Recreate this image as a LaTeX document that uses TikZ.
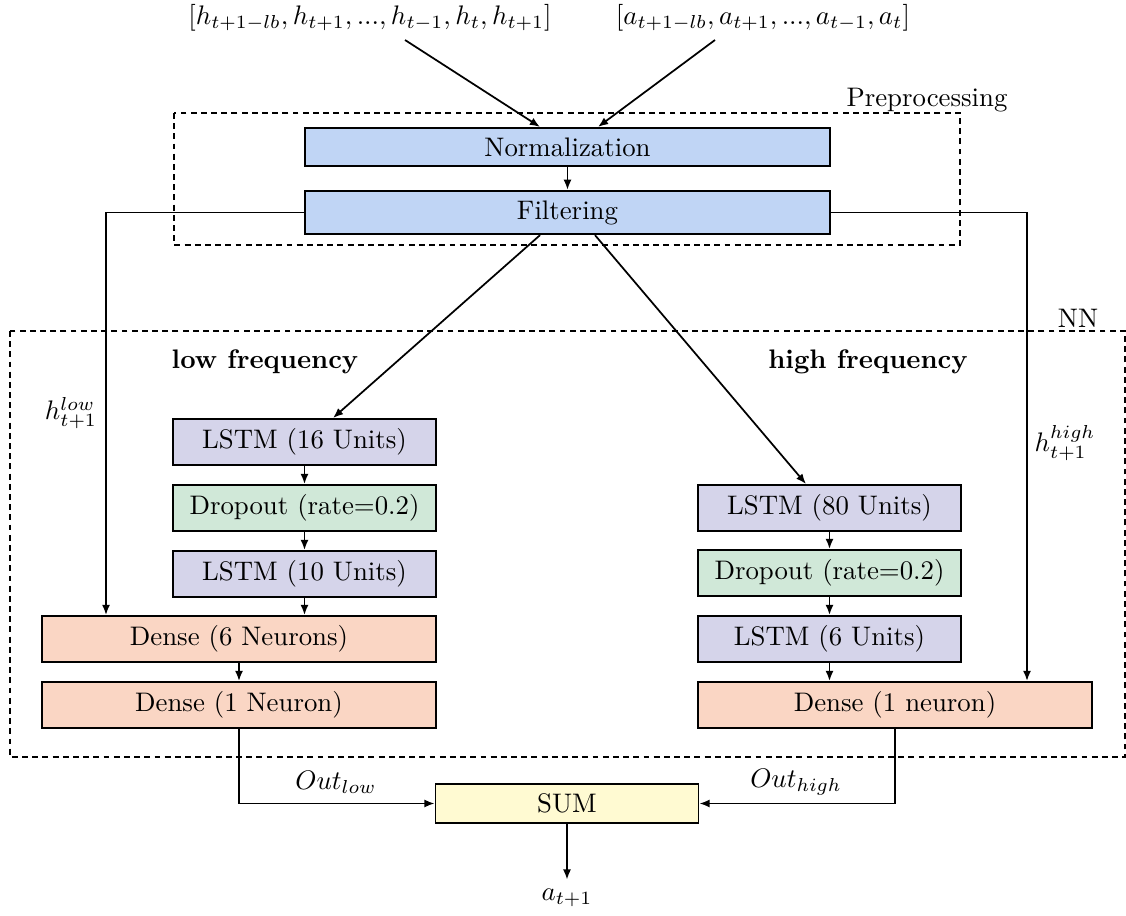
\documentclass[tikz,border=0pt]{standalone}
\usetikzlibrary{arrows.meta,calc}

\definecolor{prepfill}{RGB}{192,213,245}
\definecolor{lstmfill}{RGB}{213,212,234}
\definecolor{dropfill}{RGB}{208,232,216}
\definecolor{densefill}{RGB}{250,214,196}
\definecolor{sumfill}{RGB}{255,250,210}

\tikzset{
  block/.style={draw, line width=0.7pt, rectangle, inner ysep=3.6pt, align=center},
  prepbox/.style={block, fill=prepfill, minimum width=195.8pt},
  lstmbox/.style={block, fill=lstmfill, minimum width=98.1pt},
  dropbox/.style={block, fill=dropfill, minimum width=98.1pt},
  densebox/.style={block, fill=densefill, minimum width=147pt},
  sumbox/.style={block, fill=sumfill, minimum width=98.1pt},
  arr/.style={line width=0.65pt, -{Latex[length=3.8pt,width=3pt]}},
  group/.style={line width=0.4pt, dash pattern=on 2.2pt off 1.6pt},
}

\begin{document}
\begin{tikzpicture}[x=0.373pt, y=-0.373pt]
  \useasboundingbox (0,0) rectangle (1126,916);

  % inputs
  \node (inh) at (370,18) {$[h_{t+1-lb}, h_{t+1}, ..., h_{t-1}, h_t, h_{t+1}]$};
  \node (ina) at (763,18) {$[a_{t+1-lb}, a_{t+1}, ..., a_{t-1}, a_t]$};

  % preprocessing stage
  \node[prepbox] (norm) at (567.5,147) {Normalization};
  \node[prepbox] (filt) at (567.5,212.5) {Filtering};
  \draw[group] (174,113) rectangle (960,245);
  \node (preplbl) at (927,100) {Preprocessing};

  % network
  \draw[group] (10,331) rectangle (1125,757);
  \node (nnlbl) at (1078,318) {NN};
  \node (lowlbl) at (265,362) {\textbf{low frequency}};
  \node (highlbl) at (868,362) {\textbf{high frequency}};

  \node[lstmbox] (l1) at (304.5,442) {LSTM (16 Units)};
  \node[dropbox] (l2) at (304.5,508) {Dropout (rate=0.2)};
  \node[lstmbox] (l3) at (304.5,574) {LSTM (10 Units)};
  \node[densebox] (l4) at (239,639) {Dense (6 Neurons)};
  \node[densebox] (l5) at (239,705) {Dense (1 Neuron)};

  \node[lstmbox] (r1) at (829.5,508) {LSTM (80 Units)};
  \node[dropbox] (r2) at (829.5,573) {Dropout (rate=0.2)};
  \node[lstmbox] (r3) at (829.5,639) {LSTM (6 Units)};
  \node[densebox] (r4) at (895,705) {Dense (1 neuron)};

  \node[sumbox] (sum) at (567,803.5) {SUM};
  \node (out) at (567,898) {$a_{t+1}$};

  % edge labels
  \node (hlow) at (71,413) {$h_{t+1}^{low}$};
  \node (hhigh) at (1065,443) {$h_{t+1}^{high}$};
  \node (outlow) at (336,782) {$Out_{low}$};
  \node (outhigh) at (796,782) {$Out_{high}$};

  % helper coordinates for arrow ends
  \coordinate (sh) at (405,40);
  \coordinate (sa) at (715,40);
  \coordinate (xh) at (540,0);
  \coordinate (xa) at (598,0);
  \coordinate (xfl) at (540,0);
  \coordinate (xfr) at (595,0);
  \coordinate (xl1) at (333,0);
  \coordinate (xr1) at (806,0);
  \coordinate (xL) at (106,0);
  \coordinate (xR) at (1027,0);

  % connectors
  \draw[arr] (sh) -- (norm.north -| xh);
  \draw[arr] (sa) -- (norm.north -| xa);
  \draw[arr] (norm) -- (filt);
  \draw[arr] (filt.south -| xfl) -- (l1.north -| xl1);
  \draw[arr] (filt.south -| xfr) -- (r1.north -| xr1);
  \draw[arr] (filt.west) -| (l4.north -| xL);
  \draw[arr] (filt.east) -| (r4.north -| xR);

  \draw[arr] (l1) -- (l2);
  \draw[arr] (l2) -- (l3);
  \draw[arr] (l3.south) -- (l3.south |- l4.north);
  \draw[arr] (l4) -- (l5);

  \draw[arr] (r1) -- (r2);
  \draw[arr] (r2) -- (r3);
  \draw[arr] (r3.south) -- (r3.south |- r4.north);

  \draw[arr] (l5.south) |- (sum.west);
  \draw[arr] (r4.south) |- (sum.east);
  \draw[arr] (sum) -- (out);
\end{tikzpicture}
\end{document}
